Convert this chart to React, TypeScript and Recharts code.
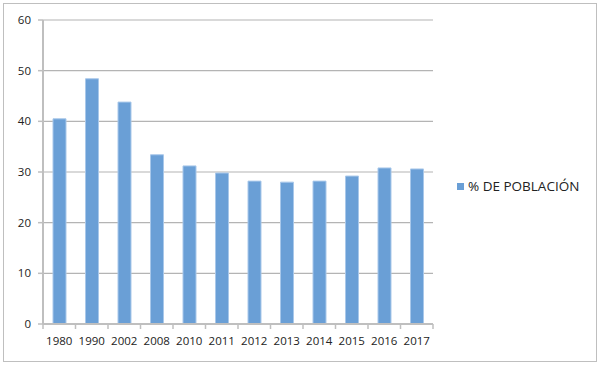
import { BarChart, Bar, XAxis, YAxis, CartesianGrid } from 'recharts'

const years = ['1980', '1990', '2002', '2008', '2010', '2011', '2012', '2013', '2014', '2015', '2016', '2017']
const poblacion = [40.5, 48.4, 43.8, 33.4, 31.2, 29.8, 28.2, 28.0, 28.2, 29.2, 30.8, 30.6]
const yTicks = [0, 10, 20, 30, 40, 50, 60]
const seriesName = '% DE POBLACIÓN'

const data = years.map((year, i) => ({ year, value: poblacion[i] }))

const FONT = '"Open Sans", "DejaVu Sans", sans-serif'
const AXIS_GRAY = '#bfbfbf'
const BAR_BLUE = '#6a9fd6'

function YearTick(props: any) {
  const { x, y, payload, index } = props
  const off = payload.offset || 0
  const top = y - 8
  return (
    <g>
      <line x1={x - off} x2={x - off} y1={top} y2={top + 5} stroke={AXIS_GRAY} strokeWidth={1.5} />
      {index === years.length - 1 && (
        <line x1={x + off} x2={x + off} y1={top} y2={top + 5} stroke={AXIS_GRAY} strokeWidth={1.5} />
      )}
      <text x={x} y={y} dy={13} textAnchor="middle" fill="#222" fontSize={11.5} fontFamily={FONT}>
        {payload.value}
      </text>
    </g>
  )
}

export default function App() {
  return (
    <div style={{ position: 'absolute', left: 0, top: 0, width: 600, height: 366, background: '#fff' }}>
      <div
        style={{
          position: 'absolute',
          left: 3,
          top: 3,
          width: 592,
          height: 357,
          border: `1.5px solid ${AXIS_GRAY}`,
        }}
      />
      <BarChart
        width={600}
        height={366}
        data={data}
        margin={{ top: 20, right: 167, bottom: 0, left: 0 }}
        barSize={13}
        style={{ position: 'absolute', left: 0, top: 0 }}
      >
        <CartesianGrid vertical={false} stroke="#b4b4b4" strokeWidth={1.2} />
        <XAxis
          dataKey="year"
          axisLine={{ stroke: AXIS_GRAY, strokeWidth: 2 }}
          tickLine={false}
          tickSize={5}
          tickMargin={3}
          height={42}
          interval={0}
          tick={<YearTick />}
        />
        <YAxis
          domain={[0, 60]}
          ticks={yTicks}
          width={43}
          axisLine={{ stroke: AXIS_GRAY, strokeWidth: 2 }}
          tickLine={{ stroke: AXIS_GRAY, strokeWidth: 1.5 }}
          tickSize={5}
          tickMargin={7}
          tick={{ fill: '#222', fontSize: 11.5, fontFamily: FONT }}
        />
        <Bar
          dataKey="value"
          name={seriesName}
          fill={BAR_BLUE}
          stroke="#a9c8ea"
          strokeWidth={1}
          isAnimationActive={false}
        />
      </BarChart>
      <div
        style={{
          position: 'absolute',
          left: 457,
          top: 177,
          display: 'flex',
          alignItems: 'center',
          fontFamily: FONT,
          fontSize: 13.5,
          color: '#222',
          whiteSpace: 'nowrap',
        }}
      >
        <span style={{ width: 7, height: 7, background: BAR_BLUE, marginRight: 4, display: 'inline-block' }} />
        <span>{seriesName}</span>
      </div>
    </div>
  )
}
